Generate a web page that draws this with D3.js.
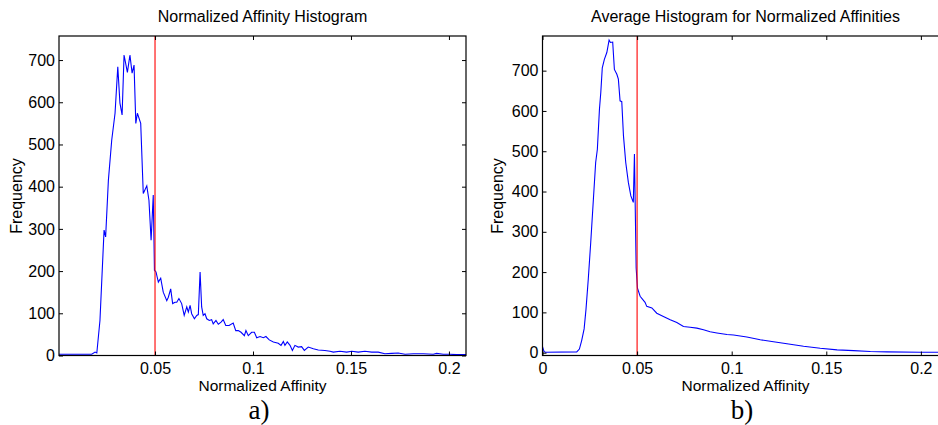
<!DOCTYPE html>
<html>
<head>
<meta charset="utf-8">
<script src="https://cdn.jsdelivr.net/npm/d3@7"></script>
<style>
  body { margin: 0; background: #fff; }
  text { font-family: "Liberation Sans", Arial, sans-serif; fill: #000; }
  .tick text { font-size: 16px; }
  .panel-tag { font-family: "Liberation Serif", "Times New Roman", serif; font-size: 27px; }
</style>
</head>
<body>
<svg id="chart" width="938" height="425"></svg>
<script>
// a) single histogram
const affinityA = [0.001, 0.0177, 0.0194, 0.0203, 0.0219, 0.0240, 0.0248, 0.0262, 0.0279, 0.0296,
  0.0310, 0.0321, 0.0332, 0.0342, 0.0359, 0.0372, 0.0383, 0.0393, 0.0402, 0.0410,
  0.0427, 0.0440, 0.0458, 0.0469, 0.0480, 0.0491, 0.0497, 0.0505, 0.0517, 0.0529,
  0.0542, 0.0560, 0.0568, 0.0580, 0.0590, 0.0602, 0.0611, 0.0622, 0.0636, 0.0649,
  0.0662, 0.0670, 0.0679, 0.0687, 0.0701, 0.0713, 0.0721, 0.0730, 0.0738, 0.0746,
  0.0755, 0.0764, 0.0777, 0.0789, 0.0797, 0.0811, 0.0823, 0.0837, 0.0848, 0.0861,
  0.0878, 0.0899, 0.0912, 0.0925, 0.0939, 0.0956, 0.0964, 0.0976, 0.0993, 0.1007,
  0.1019, 0.1036, 0.1053, 0.1066, 0.1083, 0.1104, 0.1129, 0.1143, 0.1155, 0.1163,
  0.1175, 0.1189, 0.1201, 0.1214, 0.1231, 0.1248, 0.1262, 0.1282, 0.1308, 0.1333,
  0.1367, 0.1393, 0.1410, 0.1444, 0.1478, 0.1504, 0.1537, 0.1571, 0.1606, 0.1639,
  0.1673, 0.1708, 0.1741, 0.1776, 0.1818, 0.1869, 0.1920, 0.1937, 0.1971, 0.2005,
  0.2039, 0.2087];
const freqA = [3, 3, 8, 6, 83, 297, 281, 415, 510, 574,
  684, 598, 570, 712, 671, 712, 669, 688, 550, 574,
  550, 384, 402, 368, 273, 380, 202, 198, 174, 183,
  150, 130, 138, 158, 123, 126, 126, 135, 123, 95,
  115, 103, 119, 99, 87, 95, 97, 198, 115, 95,
  99, 87, 83, 85, 75, 83, 74, 79, 85, 71,
  71, 77, 59, 59, 55, 47, 59, 47, 55, 55,
  42, 45, 42, 45, 37, 32, 29, 24, 33, 24,
  32, 24, 12, 24, 20, 21, 12, 20, 16, 13,
  12, 10, 8, 10, 8, 10, 8, 10, 8, 8,
  4, 5, 6, 3, 4, 4, 3, 5, 3, 3,
  2, 2];

// b) averaged histogram
const affinityB = [0, 0.0008, 0.0015, 0.0181, 0.0195, 0.0207, 0.0220, 0.0230, 0.0242, 0.0255,
  0.0269, 0.0281, 0.0290, 0.0301, 0.0308, 0.0316, 0.0327, 0.0340, 0.0352, 0.0359,
  0.0371, 0.0380, 0.0393, 0.0401, 0.0410, 0.0419, 0.0428, 0.0440, 0.0454, 0.0467,
  0.0480, 0.0486, 0.0495, 0.0502, 0.0516, 0.0542, 0.0551, 0.0578, 0.0604, 0.0639,
  0.0675, 0.0710, 0.0745, 0.0780, 0.0816, 0.0851, 0.0886, 0.0922, 0.0975, 0.1010,
  0.1080, 0.1151, 0.1221, 0.1292, 0.1380, 0.1468, 0.1557, 0.1644, 0.1733, 0.1821,
  0.1997, 0.2150];
const freqB = [15, 3, 1, 2, 9, 30, 59, 108, 183, 274,
  381, 472, 505, 604, 645, 707, 728, 745, 776, 770,
  771, 703, 691, 679, 625, 623, 538, 472, 422, 389,
  373, 493, 210, 160, 140, 125, 115, 111, 98, 90,
  82, 75, 65, 63, 61, 57, 52, 49, 45, 44,
  39, 32, 27, 22, 16, 11, 7, 5, 3, 2,
  1, 1];

const threshold = 0.05;
const yTicks = [0, 100, 200, 300, 400, 500, 600, 700];

const panels = [
  { title: "Normalized Affinity Histogram", tag: "a)", xs: affinityA, ys: freqA,
    left: 59, right: 466, xDomain: [0.001, 0.2087], yDomain: [0, 757],
    xTicks: [0.05, 0.1, 0.15, 0.2] },
  { title: "Average Histogram for Normalized Affinities", tag: "b)", xs: affinityB, ys: freqB,
    left: 542.5, right: 948.5, xDomain: [0, 0.2146], yDomain: [-7, 786],
    xTicks: [0, 0.05, 0.1, 0.15, 0.2] }
];

const plotTop = 36, plotBottom = 355.5;
const svg = d3.select("#chart");
const fmt = d => String(+d.toFixed(2));

panels.forEach(function (p) {
  const w = p.right - p.left, h = plotBottom - plotTop;
  const x = d3.scaleLinear().domain(p.xDomain).range([0, w]);
  const y = d3.scaleLinear().domain(p.yDomain).range([h, 0]);
  const g = svg.append("g").attr("transform", "translate(" + p.left + "," + plotTop + ")");

  const clipId = "clip" + p.tag[0];
  g.append("clipPath").attr("id", clipId)
    .append("rect").attr("width", w).attr("height", h);

  // data line
  const pts = p.xs.map((v, i) => [v, p.ys[i]]);
  g.append("path")
    .datum(pts)
    .attr("clip-path", "url(#" + clipId + ")")
    .attr("fill", "none")
    .attr("stroke", "#0000ff")
    .attr("stroke-width", 1.1)
    .attr("d", d3.line().x(d => x(d[0])).y(d => y(d[1])));

  // threshold
  g.append("line")
    .attr("x1", x(threshold)).attr("x2", x(threshold))
    .attr("y1", 0).attr("y2", h)
    .attr("stroke", "#ff0000").attr("stroke-width", 1.1);

  // axes, ticks pointing inward on all four sides
  g.append("g").attr("transform", "translate(0," + h + ")")
    .call(d3.axisBottom(x).tickValues(p.xTicks).tickFormat(fmt).tickSizeInner(-4).tickSizeOuter(0).tickPadding(7));
  g.append("g")
    .call(d3.axisTop(x).tickValues(p.xTicks).tickFormat("").tickSizeInner(-4).tickSizeOuter(0));
  g.append("g")
    .call(d3.axisLeft(y).tickValues(yTicks).tickSizeInner(-4).tickSizeOuter(0).tickPadding(4));
  g.append("g").attr("transform", "translate(" + w + ",0)")
    .call(d3.axisRight(y).tickValues(yTicks).tickFormat("").tickSizeInner(-4).tickSizeOuter(0));
  g.selectAll(".domain").remove();
  g.selectAll(".tick line").attr("stroke", "#000");
  g.selectAll("g").attr("font-family", null).attr("font-size", null);

  g.append("rect")
    .attr("width", w).attr("height", h)
    .attr("fill", "none").attr("stroke", "#000").attr("stroke-width", 1.2);

  // labels
  g.append("text")
    .attr("x", w / 2).attr("y", 22 - plotTop)
    .attr("text-anchor", "middle").style("font-size", "16px")
    .text(p.title);
  g.append("text")
    .attr("x", w / 2).attr("y", 391 - plotTop)
    .attr("text-anchor", "middle").style("font-size", "15.5px")
    .text("Normalized Affinity");
  g.append("text")
    .attr("transform", "rotate(-90)")
    .attr("x", -(196 - plotTop)).attr("y", -(p.tag === "a)" ? 59 - 21.5 : 542.5 - 503))
    .attr("text-anchor", "middle").style("font-size", "16px")
    .text("Frequency");
  g.append("text")
    .attr("class", "panel-tag")
    .attr("x", (p.tag === "a)" ? 259 : 742) - p.left).attr("y", 419 - plotTop)
    .attr("text-anchor", "middle")
    .text(p.tag);
});
</script>
</body>
</html>
